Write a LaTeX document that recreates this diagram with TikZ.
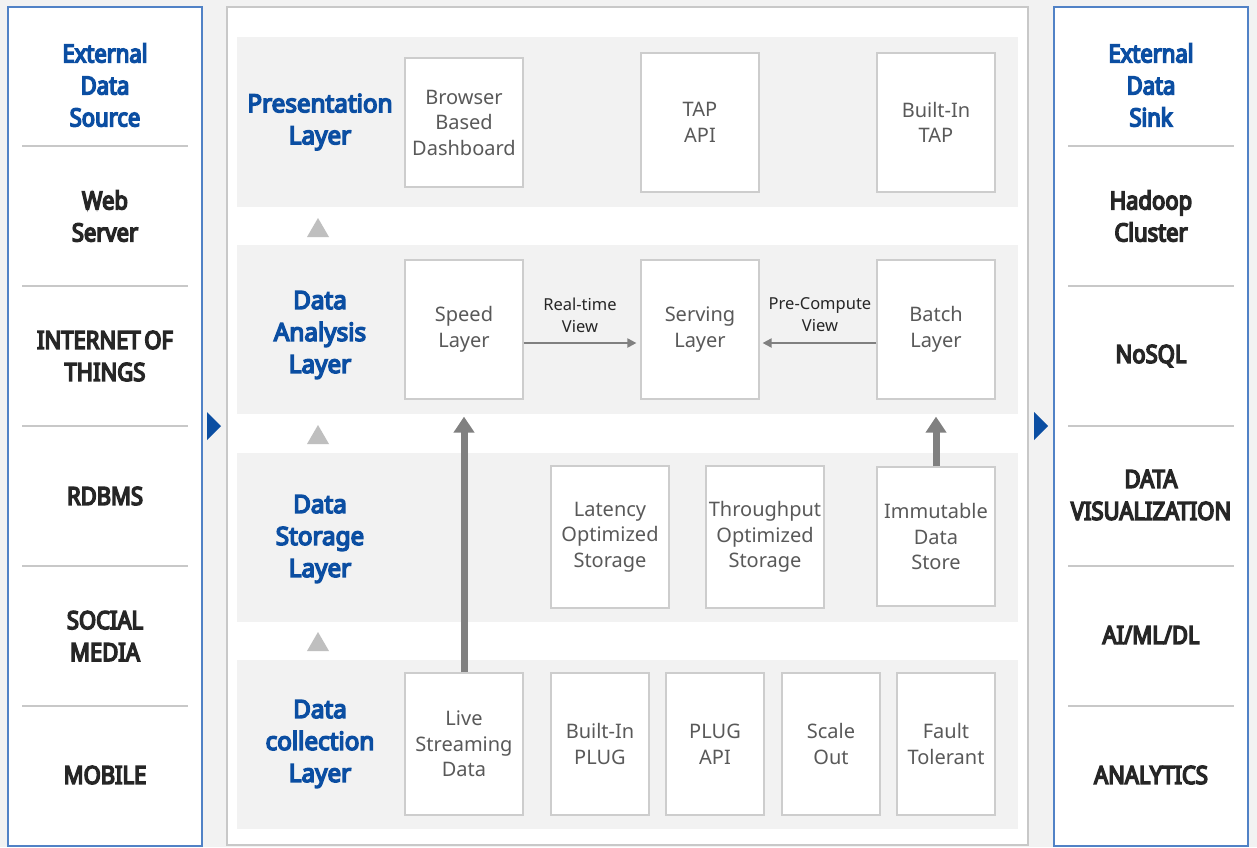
\documentclass[tikz,border=0pt]{standalone}
\usepackage{fontspec}
\setmainfont{Noto Sans}
\newfontfamily\panelfont{Noto Sans}[FakeStretch=0.88, FakeBold=6]
\newfontfamily\layerfont{Noto Sans}[FakeStretch=0.97, FakeBold=6]
\usetikzlibrary{arrows.meta}
\definecolor{bgc}{HTML}{F2F2F2}
\definecolor{blueT}{HTML}{0B4EA2}
\definecolor{blueB}{HTML}{5182C6}
\definecolor{frameC}{HTML}{C8C8C8}
\definecolor{boxC}{HTML}{CDCDCD}
\definecolor{txtG}{HTML}{595959}
\definecolor{darkT}{HTML}{262626}
\definecolor{arrG}{HTML}{808080}
\definecolor{triG}{HTML}{BFBFBF}
\tikzset{
  panelbox/.style={draw=blueB, line width=1.6pt, fill=white},
  sepline/.style={draw=frameC, line width=1.4pt},
  band/.style={fill=bgc},
  ptext/.style={align=center, text=darkT, font=\panelfont\fontsize{25}{32}\selectfont, inner sep=0pt},
  phead/.style={ptext, text=blueT},
  layerlbl/.style={align=center, text=blueT, font=\layerfont\fontsize{25}{32}\selectfont, inner sep=0pt},
  cbox/.style={draw=boxC, line width=1.2pt, fill=white, align=center, text=txtG,
    font=\fontsize{20}{25.5}\selectfont, minimum width=118pt, minimum height=139pt, inner sep=0pt},
  smallbox/.style={cbox, minimum width=98pt, minimum height=142pt},
  vlbl/.style={align=center, text=darkT, font=\fontsize{16.5}{22}\selectfont, inner sep=0pt},
  bigarrow/.style={draw=arrG, line width=7pt, -{Triangle[width=20pt,length=16pt]}},
  thinarrow/.style={draw=arrG, line width=2pt, -{Triangle[width=9pt,length=9pt]}},
  graytri/.style={fill=triG},
  bluetri/.style={fill=blueT},
}
\begin{document}
\begin{tikzpicture}[x=1pt,y=-1pt]
\useasboundingbox (0,0) rectangle (1257,847);
\fill[bgc] (0,0) rectangle (1257,847);
% panels and frame
\filldraw[panelbox] (8,7) rectangle (202,846);
\filldraw[panelbox] (1054,7) rectangle (1248,846);
\filldraw[fill=white, draw=frameC, line width=1.2pt] (227,7) rectangle (1028,845);
% separators
\foreach \yy in {146,286,426,566,706}{
  \draw[sepline] (22,\yy) -- (188,\yy);
  \draw[sepline] (1068,\yy) -- (1234,\yy);
}
% bands
\fill[band] (237,37) rectangle (1018,207);
\fill[band] (237,245) rectangle (1018,414);
\fill[band] (237,453) rectangle (1018,622);
\fill[band] (237,660) rectangle (1018,829);
% small gray triangles
\foreach \yy in {218,425,632}{
  \fill[graytri] (307,\yy+19) -- (329,\yy+19) -- (318,\yy) -- cycle;
}
% blue triangles
\fill[bluetri] (207,412) -- (207,440) -- (221,426) -- cycle;
\fill[bluetri] (1034,412) -- (1034,440) -- (1048,426) -- cycle;
% left panel texts
\node[phead] (es) at (105,85) {External\\Data\\Source};
\node[ptext] (web) at (105,216) {Web\\Server};
\node[ptext] (iot) at (105,356) {INTERNET\kern-2pt{} OF\\THINGS};
\node[ptext] (rdbms) at (105,496) {RDBMS};
\node[ptext] (social) at (105,636) {SOCIAL\\MEDIA};
\node[ptext] (mobile) at (105,775) {MOBILE};
% right panel texts
\node[phead] (sink) at (1151,85) {External\\Data\\Sink};
\node[ptext] (hadoop) at (1151,216) {Hadoop\\Cluster};
\node[ptext] (nosql) at (1151,356) {NoSQL};
\node[ptext] (dataviz) at (1151,495) {DATA\\VISUALIZATION};
\node[ptext] (aiml) at (1151,635) {AI/ML/DL};
\node[ptext] (analytics) at (1151,775) {ANALYTICS};
% layer labels
\node[layerlbl] (presL) at (320,122) {Presentation\\Layer};
\node[layerlbl] (analL) at (320,335) {Data\\Analysis\\Layer};
\node[layerlbl] (storL) at (320,539) {Data\\Storage\\Layer};
\node[layerlbl] (collL) at (320,744) {Data\\collection\\Layer};
% presentation boxes
\node[cbox, minimum height=129pt] (browser) at (464,122.5) {Browser\\Based\\Dashboard};
\node[cbox] (tapapi) at (700,122.5) {TAP\\API};
\node[cbox] (builtintap) at (936,122.5) {Built-In\\TAP};
% analysis boxes
\node[cbox] (speed) at (464,329.5) {Speed\\Layer};
\node[cbox] (serving) at (700,329.5) {Serving\\Layer};
\node[cbox] (batch) at (936,329.5) {Batch\\Layer};
% storage boxes
\node[cbox, minimum height=142pt] (latency) at (610,537) {Latency\\Optimized\\Storage};
\node[cbox, minimum height=142pt] (throughput) at (765,537) {Throughput\\Optimized\\Storage};
\node[cbox] (immutable) at (936,536.5) {Immutable\\Data\\Store};
% collection boxes
\node[cbox, minimum height=142pt] (live) at (464,744) {Live\\Streaming\\Data};
\node[smallbox] (bplug) at (600,744) {Built-In\\PLUG};
\node[smallbox] (plugapi) at (715,744) {PLUG\\API};
\node[smallbox] (scale) at (831,744) {Scale\\Out};
\node[smallbox] (fault) at (946,744) {Fault\\Tolerant};
% view labels
\node[vlbl] (rtv) at (580,315) {Real-time\\View};
\node[vlbl] (pcv) at (820,315) {Pre-Compute\\View};
% arrows
\draw[thinarrow, shorten >=4pt] ([yshift=-13.5pt]speed.east) -- ([yshift=-13.5pt]serving.west);
\draw[thinarrow, shorten >=3pt] ([yshift=-13.5pt]batch.west) -- ([yshift=-13.5pt]serving.east);
\draw[bigarrow, shorten >=17pt] (live.north) -- (speed.south);
\draw[bigarrow, shorten >=17pt] (immutable.north) -- (batch.south);
\end{tikzpicture}
\end{document}
